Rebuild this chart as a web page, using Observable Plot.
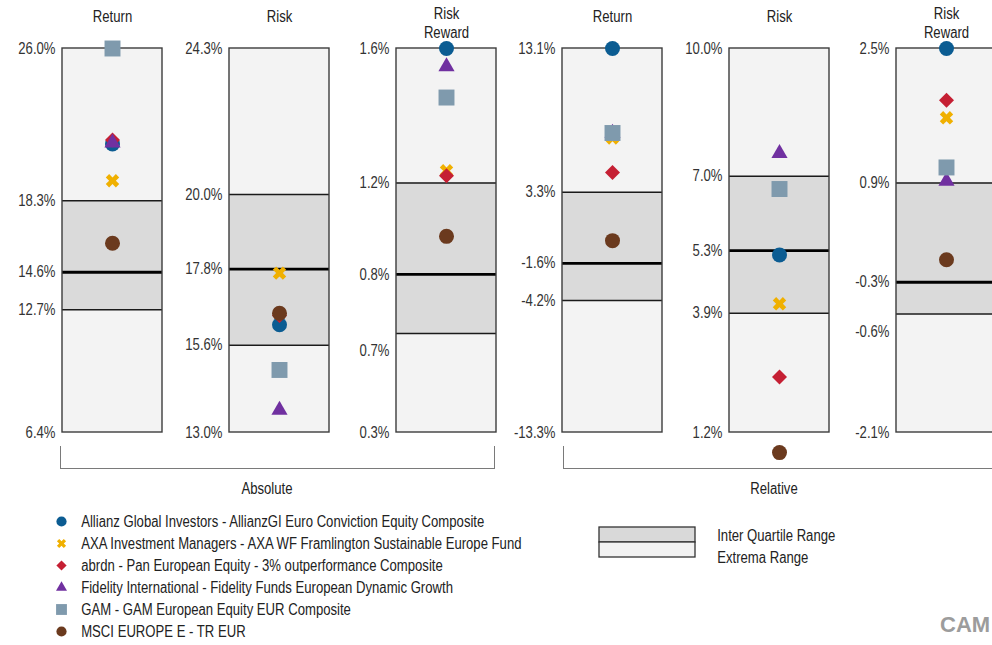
<!DOCTYPE html>
<html>
<head>
<meta charset="utf-8">
<script src="https://cdn.jsdelivr.net/npm/d3@7"></script>
<script src="https://cdn.jsdelivr.net/npm/@observablehq/plot@0.6"></script>
<style>
  html, body { margin: 0; padding: 0; background: #fff; }
  #chart { position: relative; width: 992px; height: 645px; overflow: hidden; background: #fff;
           font-family: "Liberation Sans", Arial, sans-serif; color: #222; }
  #chart svg { position: absolute; overflow: visible; }
  .bracket { position: absolute; border: 1.5px solid #7a7a7a; border-top: none; box-sizing: border-box; }
  .glabel { position: absolute; font-size: 16px; text-align: center; width: 200px; line-height: 16px; transform: scaleX(0.82); transform-origin: 50% 50%; }
  .wm { position: absolute; font-family: "Liberation Sans", Arial, sans-serif; font-weight: bold; font-size: 22px; color: #9c9c9c; }
</style>
</head>
<body>
<div id="chart"></div>
<script>
// ---------- data ----------
const seriesNames = [
  "Allianz Global Investors - AllianzGI Euro Conviction Equity Composite",
  "AXA Investment Managers - AXA WF Framlington Sustainable Europe Fund",
  "abrdn - Pan European Equity - 3% outperformance Composite",
  "Fidelity International - Fidelity Funds European Dynamic Growth",
  "GAM - GAM European Equity EUR Composite",
  "MSCI EUROPE E - TR EUR"
];
const seriesColors  = ["#0b5c92", "#f0b000", "#c51f33", "#7030a0", "#7f9aad", "#6b3a1e"];
const seriesSymbols = ["circle", "cross", "square", "triangle", "square", "circle"];
const seriesRotate  = [0, 45, 45, 0, 0, 0];
const seriesRadius  = [7.5, 6, 6, 6, 9, 7.5];

const panelIds    = ["absReturn", "absRisk", "absRiskReward", "relReturn", "relRisk", "relRiskReward"];
const panelTitles = ["Return", "Risk", "Risk\nReward", "Return", "Risk", "Risk\nReward"];
const groupNames  = ["Absolute", "Relative"];

// box statistics per panel
const statMin    = [6.4,   13.0,  0.31,  -13.3, 1.2,  -2.1];
const statQ1     = [12.66, 15.57, 0.645, -4.23, 3.93, -0.68];
const statMedian = [14.58, 17.81, 0.845, -1.67, 5.37, -0.30];
const statQ3     = [18.23, 20.0,  1.155,  3.21, 7.07,  0.888];
const statMax    = [26.0,  24.3,  1.61,  13.1, 10.0,  2.5];

// tick labels per panel (top to bottom) and the value they sit at
const tickLabels = [
  ["26.0%", "18.3%", "14.6%", "12.7%", "6.4%"],
  ["24.3%", "20.0%", "17.8%", "15.6%", "13.0%"],
  ["1.6%", "1.2%", "0.8%", "0.7%", "0.3%"],
  ["13.1%", "3.3%", "-1.6%", "-4.2%", "-13.3%"],
  ["10.0%", "7.0%", "5.3%", "3.9%", "1.2%"],
  ["2.5%", "0.9%", "-0.3%", "-0.6%", "-2.1%"]
];
const tickAt = [
  [26.0, 18.23, 14.58, 12.66, 6.4],
  [24.3, 20.0, 17.81, 15.57, 13.0],
  [1.61, 1.155, 0.845, 0.587, 0.31],
  [13.1, 3.21, -1.67, -4.23, -13.3],
  [10.0, 7.07, 5.37, 3.93, 1.2],
  [2.5, 0.888, -0.30, -0.893, -2.1]
];

// series values per panel (absReturn, absRisk, absRiskReward, relReturn, relRisk, relRiskReward)
const allianzValues  = [21.13, 16.17, 1.61,  13.1,  5.27, 2.5];
const axaValues      = [19.25, 17.69, 1.196, 6.95,  4.15, 1.67];
const abrdnValues    = [21.33, 16.44, 1.179, 4.58,  2.47, 1.88];
const fidelityValues = [21.18, 13.66, 1.549, 7.29,  7.60, 0.912];
const gamValues      = [26.0,  14.84, 1.444, 7.29,  6.78, 1.075];
const msciValues     = [16.06, 16.51, 0.974, -0.11, 0.74, -0.03];
const seriesValues = [allianzValues, axaValues, abrdnValues, fidelityValues, gamValues, msciValues];

const rangeLegend = ["Inter Quartile Range", "Extrema Range"];

// ---------- drawing ----------
const chart = document.getElementById("chart");
const FONT = '"Liberation Sans", Arial, sans-serif';
const NARROW = 0.82;           // Arial Narrow look: condense text horizontally
const panelStep = 166.8;

function condense(svg) {
  svg.querySelectorAll("text").forEach(t => {
    let tr = t.getAttribute("transform") || "";
    if (!tr) {
      const x = t.getAttribute("x") || 0, y = t.getAttribute("y") || 0;
      tr = `translate(${x},${y})`;
      t.removeAttribute("x"); t.removeAttribute("y");
    }
    t.setAttribute("transform", tr + ` scale(${NARROW},1)`);
  });
  return svg;
}

panelIds.forEach((id, i) => {
  const box = [{panel: id, min: statMin[i], q1: statQ1[i], med: statMedian[i], q3: statQ3[i], max: statMax[i]}];
  const ticks = tickLabels[i].map((t, j) => ({label: t, at: tickAt[i][j]}));
  const lines = panelTitles[i].split("\n").length;
  const marks = [
    Plot.barY(box, {x: "panel", y1: "min", y2: "max", fill: "#f3f3f3"}),
    Plot.barY(box, {x: "panel", y1: "q1", y2: "q3", fill: "#dadada"}),
    Plot.ruleY(box, {y: "q1", stroke: "#1a1a1a", strokeWidth: 1.5}),
    Plot.ruleY(box, {y: "q3", stroke: "#1a1a1a", strokeWidth: 1.5}),
    Plot.ruleY(box, {y: "med", stroke: "#000", strokeWidth: 2.8}),
    Plot.barY(box, {x: "panel", y1: "min", y2: "max", fill: "none", stroke: "#3c3c3c", strokeWidth: 1.4}),
    Plot.text(ticks, {y: "at", text: "label", frameAnchor: "left", textAnchor: "end", dx: -7, fontSize: 16, fill: "#333"}),
    Plot.text([panelTitles[i]], {text: d => d, frameAnchor: "top", lineAnchor: "middle", dy: lines === 1 ? -32 : -26, lineHeight: 1.15, fontSize: 16, fill: "#222"})
  ];
  seriesNames.forEach((s, k) => {
    marks.push(Plot.dot([{panel: id, value: seriesValues[k][i]}], {
      x: "panel", y: "value", symbol: seriesSymbols[k], fill: seriesColors[k],
      r: seriesRadius[k], rotate: seriesRotate[k], stroke: "none"
    }));
  });
  const svg = Plot.plot({
    width: 167, height: 470,
    marginLeft: 62, marginRight: 5, marginTop: 48, marginBottom: 38,
    x: {domain: [id], padding: 0, axis: null},
    y: {domain: [statMin[i], statMax[i]], axis: null},
    style: {fontFamily: FONT, background: "transparent", overflow: "visible"},
    marks
  });
  condense(svg);
  svg.style.left = (i * panelStep) + "px";
  svg.style.top = "0px";
  chart.appendChild(svg);
});

// group brackets and labels
const brackets = [{left: 60, width: 435}, {left: 563, width: 450}];
brackets.forEach((b) => {
  const d = document.createElement("div");
  d.className = "bracket";
  d.style.left = b.left + "px"; d.style.top = "446px";
  d.style.width = b.width + "px"; d.style.height = "23px";
  chart.appendChild(d);
});
[266.5, 773.5].forEach((c, g) => {
  const l = document.createElement("div");
  l.className = "glabel";
  l.textContent = groupNames[g];
  l.style.left = (c - 100) + "px"; l.style.top = "481px";
  chart.appendChild(l);
});

// series legend
const legendData = seriesNames.map((s, k) => ({name: s, k}));
const legendMarks = [];
legendData.forEach((d, k) => {
  legendMarks.push(Plot.dot([d], {
    y: "name", frameAnchor: "left", dx: 61, symbol: seriesSymbols[k], fill: seriesColors[k],
    r: seriesRadius[k] * 0.68, rotate: seriesRotate[k], stroke: "none"
  }));
});
legendMarks.push(Plot.text(legendData, {y: "name", text: "name", frameAnchor: "left", textAnchor: "start", dx: 80.7, fontSize: 16, fill: "#222"}));
const legendSvg = Plot.plot({
  width: 560, height: 145, marginLeft: 0, marginRight: 0, marginTop: 0, marginBottom: 0,
  y: {type: "point", domain: seriesNames, range: [19, 133.3], padding: 0, axis: null},
  style: {fontFamily: FONT, background: "transparent"},
  marks: legendMarks
});
condense(legendSvg);
legendSvg.style.left = "0px"; legendSvg.style.top = "500px";
chart.appendChild(legendSvg);

// range legend
const rangeSvg = Plot.plot({
  width: 300, height: 50, marginLeft: 0, marginRight: 0, marginTop: 0, marginBottom: 0,
  x: {type: "band", domain: ["swatch"], range: [39.3, 135.7], padding: 0, axis: null},
  y: {type: "band", domain: rangeLegend, range: [6.7, 37.3], padding: 0, axis: null},
  color: {domain: rangeLegend, range: ["#d9d9d9", "#f2f2f2"]},
  style: {fontFamily: FONT, background: "transparent"},
  marks: [
    Plot.cell(rangeLegend, {x: () => "swatch", y: d => d, fill: d => d, stroke: "#333", strokeWidth: 1.3, inset: 0}),
    Plot.text([rangeLegend[0]], {y: d => d, text: d => d, frameAnchor: "left", textAnchor: "start", dx: 156.7, dy: 0.5, fontSize: 16, fill: "#222"}),
    Plot.text([rangeLegend[1]], {y: d => d, text: d => d, frameAnchor: "left", textAnchor: "start", dx: 156.7, dy: 7.5, fontSize: 16, fill: "#222"})
  ]
});
condense(rangeSvg);
rangeSvg.style.left = "560px"; rangeSvg.style.top = "520px";
chart.appendChild(rangeSvg);

// watermark (cut off at the right edge in the original)
const wm = document.createElement("div");
wm.className = "wm";
wm.textContent = "CAM";
wm.style.left = "940px"; wm.style.top = "612px";
chart.appendChild(wm);
</script>
</body>
</html>
